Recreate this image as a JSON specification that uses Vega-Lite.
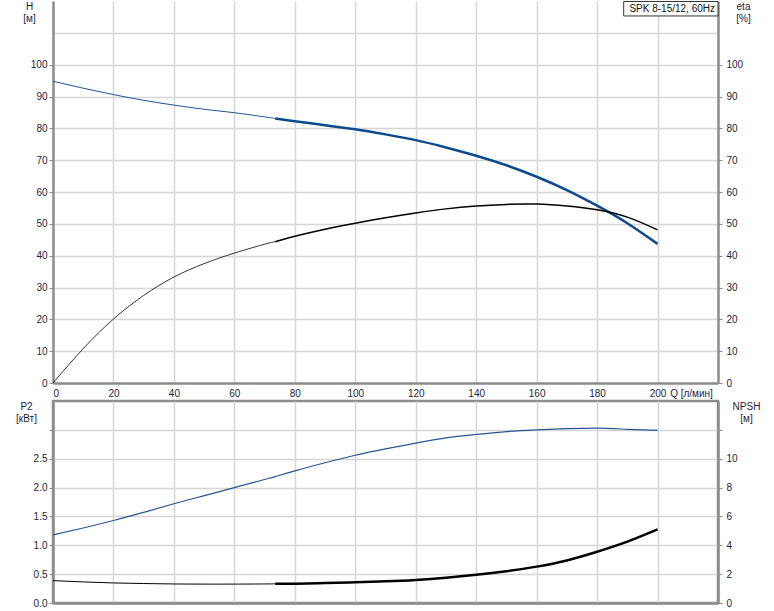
{
  "$schema": "https://vega.github.io/schema/vega-lite/v6.json",
  "padding": {"left": 14, "top": 0, "right": 5, "bottom": 5},
  "background": "white",
  "config": {
    "font": "Liberation Sans",
    "view": {"stroke": "#8c8c8c", "strokeWidth": 2.5},
    "axis": {
      "domainColor": "#8c8c8c", "domainWidth": 2.5,
      "gridColor": "#d6d6d6", "gridWidth": 1.5,
      "tickColor": "#8c8c8c", "tickSize": 4, "tickWidth": 1,
      "labelFont": "Liberation Sans", "labelFontSize": 10, "labelColor": "#1e1e3c",
      "titleFont": "Liberation Sans", "titleFontSize": 10, "titleFontWeight": "normal", "titleColor": "#1e1e3c"
    }
  },
  "datasets": {
    "pump": [
      {"Q": 0, "H": 94.8, "eta": 0, "P2": 1.18, "NPSH": 1.55},
      {"Q": 10, "H": 92.6, "eta": 10.8, "P2": 1.30, "NPSH": 1.46},
      {"Q": 20, "H": 90.6, "eta": 20.1, "P2": 1.43, "NPSH": 1.39},
      {"Q": 30, "H": 88.8, "eta": 27.5, "P2": 1.57, "NPSH": 1.35},
      {"Q": 40, "H": 87.3, "eta": 33.3, "P2": 1.72, "NPSH": 1.32},
      {"Q": 50, "H": 86.0, "eta": 37.5, "P2": 1.86, "NPSH": 1.31},
      {"Q": 60, "H": 84.9, "eta": 40.8, "P2": 2.00, "NPSH": 1.31},
      {"Q": 70, "H": 83.6, "eta": 43.6, "P2": 2.14, "NPSH": 1.32},
      {"Q": 73.5, "H": 83.1, "eta": 44.4, "P2": 2.19, "NPSH": 1.33},
      {"Q": 80, "H": 82.2, "eta": 46.1, "P2": 2.29, "NPSH": 1.34},
      {"Q": 90, "H": 81.0, "eta": 48.3, "P2": 2.43, "NPSH": 1.38},
      {"Q": 100, "H": 79.7, "eta": 50.2, "P2": 2.56, "NPSH": 1.43},
      {"Q": 110, "H": 78.1, "eta": 51.9, "P2": 2.67, "NPSH": 1.50},
      {"Q": 120, "H": 76.3, "eta": 53.4, "P2": 2.77, "NPSH": 1.60},
      {"Q": 130, "H": 74.0, "eta": 54.7, "P2": 2.86, "NPSH": 1.75},
      {"Q": 140, "H": 71.4, "eta": 55.6, "P2": 2.92, "NPSH": 1.95},
      {"Q": 150, "H": 68.4, "eta": 56.1, "P2": 2.97, "NPSH": 2.20},
      {"Q": 160, "H": 64.8, "eta": 56.2, "P2": 3.00, "NPSH": 2.52},
      {"Q": 170, "H": 60.6, "eta": 55.6, "P2": 3.02, "NPSH": 2.95},
      {"Q": 180, "H": 55.7, "eta": 54.4, "P2": 3.03, "NPSH": 3.55},
      {"Q": 190, "H": 50.2, "eta": 52.1, "P2": 3.01, "NPSH": 4.25},
      {"Q": 200, "H": 43.7, "eta": 48.1, "P2": 2.99, "NPSH": 5.10}
    ]
  },
  "spacing": 1,
  "vconcat": [
    {
      "width": 665,
      "height": 382,
      "view": {"stroke": null},
      "encoding": {
        "x": {
          "field": "Q", "type": "quantitative",
          "scale": {"domain": [0, 220], "nice": false, "zero": false},
          "axis": {
            "values": [0, 20, 40, 60, 80, 100, 120, 140, 160, 180, 200],
            "ticks": false, "tickSize": 0, "labelPadding": 5, "grid": true,
            "title": "Q [л/мин]", "titleX": 638, "titleY": 5,
            "titleAlign": "center", "titleBaseline": "top", "titlePadding": 0
          }
        }
      },
      "layer": [
        {
          "data": {"name": "pump"},
          "encoding": {
            "y": {
              "field": "H", "type": "quantitative",
              "scale": {"domain": [0, 120], "nice": false},
              "axis": {
                "values": [0, 10, 20, 30, 40, 50, 60, 70, 80, 90, 100, 110],
                "labelExpr": "datum.value > 100 ? '' : datum.label",
                "tickOpacity": {"condition": {"test": "datum.value > 100", "value": 0}, "value": 1},
                "labelPadding": 2,
                "title": ["H", "[м]"], "titleAngle": 0, "titleX": -24, "titleY": 0,
                "titleAlign": "center", "titleBaseline": "top", "titleLineHeight": 12
              }
            }
          },
          "layer": [
            {
              "transform": [{"filter": "datum.Q <= 73.5"}],
              "mark": {"type": "line", "color": "#1f5494", "strokeWidth": 1, "interpolate": "natural"}
            },
            {
              "transform": [{"filter": "datum.Q >= 73.5"}],
              "mark": {"type": "line", "color": "#0b4a8c", "strokeWidth": 2.5, "interpolate": "natural"}
            }
          ]
        },
        {
          "data": {"name": "pump"},
          "encoding": {
            "y": {
              "field": "eta", "type": "quantitative",
              "scale": {"domain": [0, 120], "nice": false},
              "axis": {
                "orient": "right", "grid": false,
                "values": [0, 10, 20, 30, 40, 50, 60, 70, 80, 90, 100],
                "labelPadding": 4,
                "title": ["eta", "[%]"], "titleAngle": 0, "titleX": 25, "titleY": 0,
                "titleAlign": "center", "titleBaseline": "top", "titleLineHeight": 12
              }
            }
          },
          "layer": [
            {
              "transform": [{"filter": "datum.Q <= 73.5"}],
              "mark": {"type": "line", "color": "#000000", "strokeWidth": 0.8, "interpolate": "natural"}
            },
            {
              "transform": [{"filter": "datum.Q >= 73.5"}],
              "mark": {"type": "line", "color": "#000000", "strokeWidth": 1.5, "interpolate": "natural"}
            },
            {
              "data": {"values": [{"name": "SPK 8-15/12, 60Hz", "x0": 188.8, "x1": 220, "y0": 115.3, "y1": 119.85}]},
              "mark": {"type": "rect", "fill": "white", "stroke": "#333333", "strokeWidth": 1},
              "encoding": {
                "x": {"field": "x0", "type": "quantitative"},
                "x2": {"field": "x1"},
                "y": {"field": "y0", "type": "quantitative"},
                "y2": {"field": "y1"}
              }
            },
            {
              "data": {"values": [{"name": "SPK 8-15/12, 60Hz", "x1": 220, "y1": 120}]},
              "mark": {"type": "text", "align": "right", "baseline": "middle", "dx": -3, "dy": 8, "fontSize": 10, "color": "#111111", "font": "Liberation Sans"},
              "encoding": {
                "x": {"field": "x1", "type": "quantitative"},
                "y": {"field": "y1", "type": "quantitative"},
                "text": {"field": "name"}
              }
            }
          ]
        }
      ],
      "resolve": {"scale": {"y": "independent"}}
    },
    {
      "width": 665,
      "height": 202,
      "data": {"name": "pump"},
      "encoding": {
        "x": {
          "field": "Q", "type": "quantitative",
          "scale": {"domain": [0, 220], "nice": false, "zero": false},
          "axis": {
            "values": [0, 20, 40, 60, 80, 100, 120, 140, 160, 180, 200],
            "labels": false, "ticks": false, "tickSize": 0, "grid": true, "title": null
          }
        }
      },
      "layer": [
        {
          "mark": {"type": "line", "color": "#2a5590", "strokeWidth": 1.2, "interpolate": "natural"},
          "encoding": {
            "y": {
              "field": "P2", "type": "quantitative",
              "scale": {"domain": [0, 3.5], "nice": false},
              "axis": {
                "values": [0, 0.5, 1, 1.5, 2, 2.5, 3],
                "format": ".1f",
                "labelExpr": "datum.value > 2.75 ? '' : datum.label",
                "labelPadding": 2,
                "title": ["P2", "[кВт]"], "titleAngle": 0, "titleX": -27, "titleY": 0,
                "titleAlign": "center", "titleBaseline": "top", "titleLineHeight": 12
              }
            }
          }
        },
        {
          "encoding": {
            "y": {
              "field": "NPSH", "type": "quantitative",
              "scale": {"domain": [0, 14], "nice": false},
              "axis": {
                "orient": "right", "grid": false,
                "values": [0, 2, 4, 6, 8, 10, 12],
                "labelExpr": "datum.value > 11 ? '' : datum.label",
                "labelPadding": 4,
                "title": ["NPSH", "[м]"], "titleAngle": 0, "titleX": 28, "titleY": 0,
                "titleAlign": "center", "titleBaseline": "top", "titleLineHeight": 12
              }
            }
          },
          "layer": [
            {
              "transform": [{"filter": "datum.Q <= 73.5"}],
              "mark": {"type": "line", "color": "#000000", "strokeWidth": 1, "interpolate": "natural"}
            },
            {
              "transform": [{"filter": "datum.Q >= 73.5"}],
              "mark": {"type": "line", "color": "#000000", "strokeWidth": 2.5, "interpolate": "natural"}
            }
          ]
        }
      ],
      "resolve": {"scale": {"y": "independent"}}
    }
  ]
}
